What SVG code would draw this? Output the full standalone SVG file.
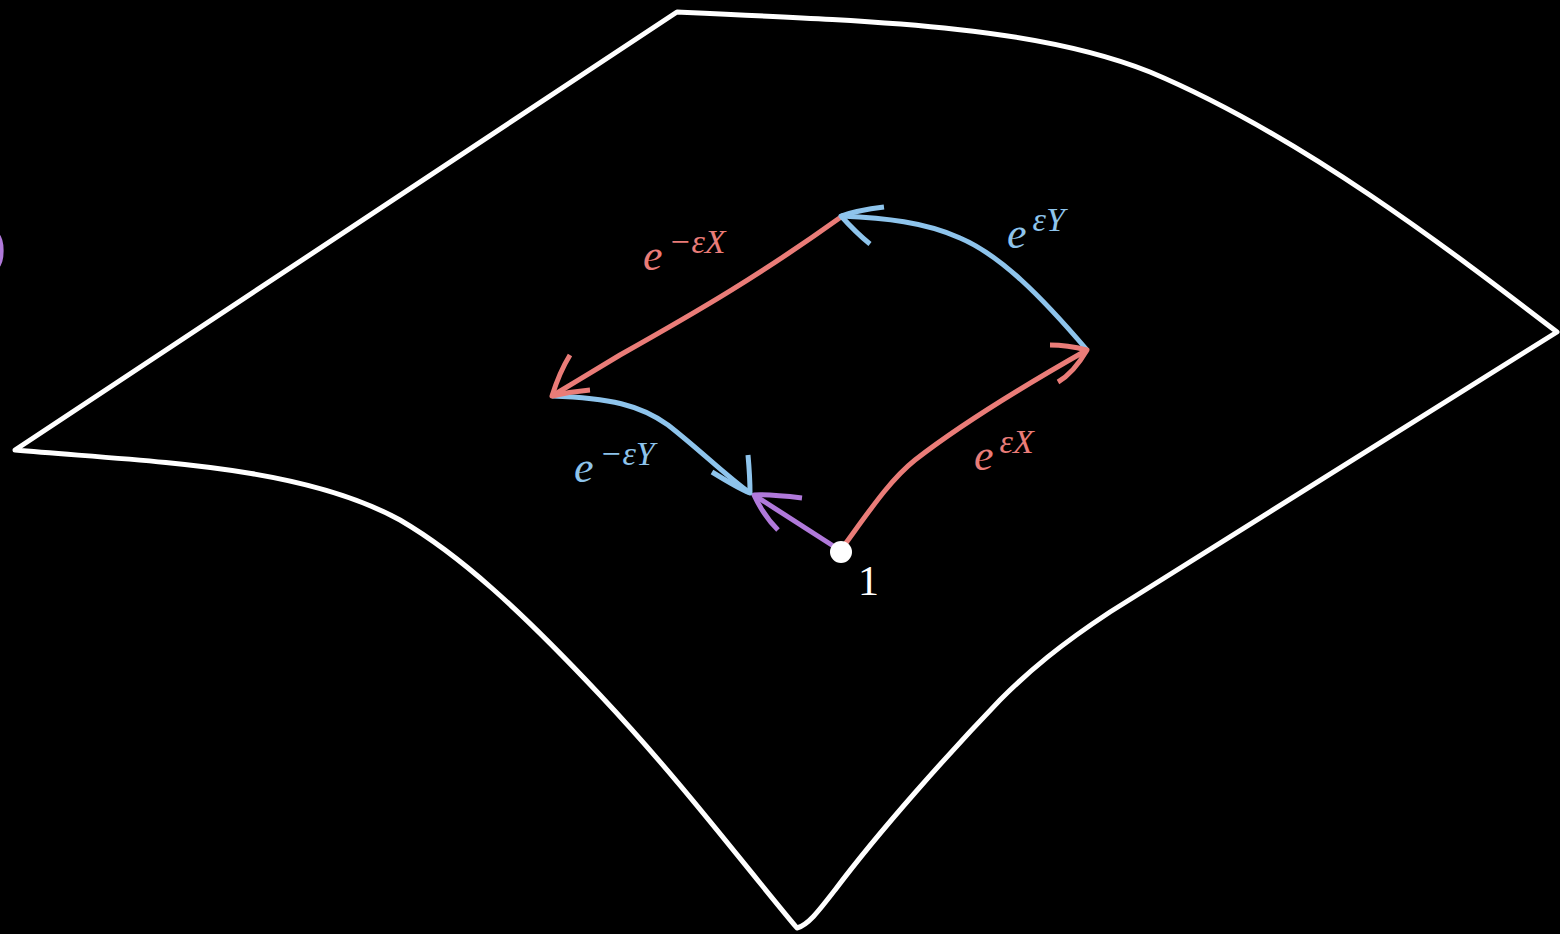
<svg xmlns="http://www.w3.org/2000/svg" width="1560" height="934" viewBox="0 0 1560 934">
<style>
.surf{fill:none;stroke:#fff;stroke-width:5;stroke-linejoin:round;stroke-linecap:round}
.a{fill:none;stroke-width:5;stroke-linecap:butt;stroke-linejoin:round}
.r{stroke:#ea7c78}.b{stroke:#8ec4ec}.p{stroke:#b079da}
.lab{font-family:"Liberation Serif","DejaVu Serif",serif;font-style:italic}
.tr{fill:#ea7c78}.tb{fill:#8ec4ec}
</style>
<rect width="1560" height="934" fill="#000"/>
<g id="surface">
<path class="surf" d="M677,12 C900,22 1040,28 1150,72 C1300,135 1450,250 1557,332 L1110,612 C1060,645 1030,670 1000,700 C950,752 880,830 835,890 C818,912 808,925 797,928 C740,860 680,780 600,695 C520,610 460,555 400,520 C300,465 150,462 15,450 L677,12 Z"/>
</g>
<g id="paren"><text x="-12" y="264" font-family="Liberation Serif,serif" font-size="54" fill="#b079da">)</text></g>
<g id="connectors">
<path class="a p" d="M838,549 L754,495"/>
<path class="a p" d="M802,498 C785,496 768,494 754,495 C760,508 768,520 778,530"/>
<path class="a b" d="M552,396 C610,398 640,405 668,425 C700,450 725,475 750,493"/>
<path class="a b" d="M712,472 C725,480 738,488 750,493 C750,480 749,466 748,455"/>
<path class="a r" d="M841,217 C760,275 700,310 620,355 C595,370 575,382 552,396"/>
<path class="a r" d="M570,355 C562,368 557,380 552,396 C565,393 578,391 590,390"/>
<path class="a b" d="M1087,350 C1040,295 1000,255 960,238 C925,222 885,218 841,216"/>
<path class="a b" d="M884,207 C868,209 855,211 841,216 C850,226 860,236 870,244"/>
<path class="a r" d="M843,547 C870,510 890,480 915,460 C960,425 1020,388 1087,350"/>
<path class="a r" d="M1050,345 C1062,345 1075,347 1087,350 C1080,362 1070,375 1058,382"/>
</g>
<g id="node-1">
<circle cx="841" cy="552" r="11" fill="#fff"/>
<text x="858" y="595" font-family="Liberation Serif,serif" font-size="42" fill="#fff">1</text>
</g>
<g id="label-nx"><text class="lab tr" x="643" y="270"><tspan font-size="44">e</tspan><tspan font-size="34" dx="6" dy="-17">−εX</tspan></text></g>
<g id="label-y"><text class="lab tb" x="1007" y="248"><tspan font-size="44">e</tspan><tspan font-size="34" dx="6" dy="-17">εY</tspan></text></g>
<g id="label-ny"><text class="lab tb" x="574" y="482"><tspan font-size="44">e</tspan><tspan font-size="34" dx="6" dy="-17">−εY</tspan></text></g>
<g id="label-x"><text class="lab tr" x="974" y="470"><tspan font-size="44">e</tspan><tspan font-size="34" dx="6" dy="-17">εX</tspan></text></g>
</svg>
